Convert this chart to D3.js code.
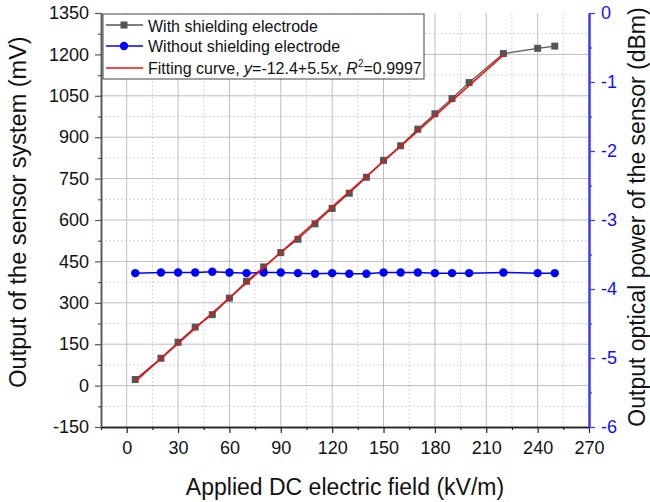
<!DOCTYPE html>
<html>
<head>
<meta charset="utf-8">
<script src="https://cdn.jsdelivr.net/npm/d3@7"></script>
<style>
  html, body { margin: 0; padding: 0; background: #fff; }
  svg { display: block; font-family: Arial, "Liberation Sans", sans-serif; }
</style>
</head>
<body>
<svg id="chart" width="650" height="502"></svg>
<script>
// Applied field (kV/m)
const fieldValues = [5, 20, 30, 40, 50, 60, 70, 80, 90, 100, 110, 120, 130, 140, 150, 160, 170, 180, 190, 200, 220, 240, 250];
// Sensor output with shielding electrode (mV)
const shieldedOutput = [22, 99, 157, 212, 257, 317, 378, 430, 482, 530, 586, 642, 697, 755, 816, 869, 929, 985, 1040, 1098, 1203, 1222, 1230];
// Optical power without shielding electrode (dBm)
const unshieldedPower = [-3.77, -3.76, -3.76, -3.76, -3.75, -3.76, -3.77, -3.76, -3.76, -3.77, -3.78, -3.77, -3.78, -3.78, -3.76, -3.76, -3.76, -3.77, -3.77, -3.77, -3.76, -3.77, -3.77];
// Linear fit y = a + b x over the linear range
const fitIntercept = -12.4;
const fitSlope = 5.5;
const fitRange = [5, 220];

const xTicks = [0, 30, 60, 90, 120, 150, 180, 210, 240, 270];
const yLeftTicks = [-150, 0, 150, 300, 450, 600, 750, 900, 1050, 1200, 1350];
const yRightTicks = [-6, -5, -4, -3, -2, -1, 0];

const svg = d3.select("#chart");
const L = 101, R = 589, T = 13, B = 427;
const plain = d => String(d);

const x = d3.scaleLinear().domain([-15, 270]).range([L, R]);
const yL = d3.scaleLinear().domain([-150, 1350]).range([B, T]);
const yR = d3.scaleLinear().domain([-6, 0]).range([B, T]);

// grid
const grid = svg.append("g");
const xMinor = d3.range(15, 270, 30);
const yMinor = d3.range(-75, 1350, 150);
grid.selectAll(".vmin").data(xMinor).join("line")
  .attr("x1", d => x(d)).attr("x2", d => x(d)).attr("y1", T).attr("y2", B)
  .attr("stroke", "#d4d4d4").attr("stroke-width", 1).attr("stroke-dasharray", "2,2");
grid.selectAll(".hmin").data(yMinor).join("line")
  .attr("y1", d => yL(d)).attr("y2", d => yL(d)).attr("x1", L).attr("x2", R)
  .attr("stroke", "#d4d4d4").attr("stroke-width", 1).attr("stroke-dasharray", "2,2");
grid.selectAll(".vmaj").data(xTicks.filter(d => d < 270)).join("line")
  .attr("x1", d => x(d)).attr("x2", d => x(d)).attr("y1", T).attr("y2", B)
  .attr("stroke", "#bdbdbd").attr("stroke-width", 1);
grid.selectAll(".hmaj").data(yLeftTicks.filter(d => d > -150 && d < 1350)).join("line")
  .attr("y1", d => yL(d)).attr("y2", d => yL(d)).attr("x1", L).attr("x2", R)
  .attr("stroke", "#bdbdbd").attr("stroke-width", 1);

// axes
function styleAxis(g, color, width, textColor) {
  g.select(".domain").attr("stroke", color).attr("stroke-width", width);
  g.selectAll(".tick line").attr("stroke", color).attr("stroke-width", 1.2);
  g.selectAll(".tick text").attr("fill", textColor)
    .attr("font-size", 18).attr("font-family", "Arial, 'Liberation Sans', sans-serif");
}

const xMinorAxis = svg.append("g").attr("transform", `translate(0,${B})`)
  .call(d3.axisBottom(x).tickValues(d3.range(-15, 271, 30)).tickSize(3).tickFormat("").tickSizeOuter(0));
styleAxis(xMinorAxis, "#222", 1.5, "#111");
const xAxis = svg.append("g").attr("transform", `translate(0,${B})`)
  .call(d3.axisBottom(x).tickValues(xTicks).tickSize(6).tickPadding(8).tickFormat(plain).tickSizeOuter(0));
styleAxis(xAxis, "#222", 1.5, "#111");

const yMinorAxis = svg.append("g").attr("transform", `translate(${L},0)`)
  .call(d3.axisLeft(yL).tickValues(yMinor).tickSize(3).tickFormat("").tickSizeOuter(0));
styleAxis(yMinorAxis, "#555", 1.5, "#111");
const yAxis = svg.append("g").attr("transform", `translate(${L},0)`)
  .call(d3.axisLeft(yL).tickValues(yLeftTicks).tickSize(6).tickPadding(6).tickFormat(plain).tickSizeOuter(0));
styleAxis(yAxis, "#555", 1.5, "#111");

const yRMinorAxis = svg.append("g").attr("transform", `translate(${R},0)`)
  .call(d3.axisRight(yR).tickValues(d3.range(-5.5, 0, 1)).tickSize(3).tickFormat("").tickSizeOuter(0));
styleAxis(yRMinorAxis, "#3b3bff", 2, "#1010ff");
const yRAxis = svg.append("g").attr("transform", `translate(${R},0)`)
  .call(d3.axisRight(yR).tickValues(yRightTicks).tickSize(6).tickPadding(6).tickFormat(plain).tickSizeOuter(0));
styleAxis(yRAxis, "#3b3bff", 2, "#1010ff");

// axis titles
svg.append("text").attr("x", (L + R) / 2).attr("y", 495)
  .attr("text-anchor", "middle").attr("font-size", 23).attr("fill", "#111")
  .text("Applied DC electric field (kV/m)");
svg.append("text").attr("transform", "translate(26,212) rotate(-90)")
  .attr("text-anchor", "middle").attr("font-size", 23.5).attr("fill", "#111")
  .text("Output of the sensor system (mV)");
svg.append("text").attr("transform", "translate(645,217) rotate(-90)")
  .attr("text-anchor", "middle").attr("font-size", 23).attr("fill", "#111")
  .text("Output optical power of the sensor (dBm)");

// series: with shielding electrode
const shielded = fieldValues.map((f, i) => [f, shieldedOutput[i]]);
svg.append("path").datum(shielded)
  .attr("fill", "none").attr("stroke", "#555").attr("stroke-width", 1.2)
  .attr("d", d3.line().x(d => x(d[0])).y(d => yL(d[1])));
svg.selectAll(".sq").data(shielded).join("rect")
  .attr("x", d => x(d[0]) - 3.5).attr("y", d => yL(d[1]) - 3.5)
  .attr("width", 7).attr("height", 7).attr("fill", "#555");

// series: without shielding electrode
const unshielded = fieldValues.map((f, i) => [f, unshieldedPower[i]]);
svg.append("path").datum(unshielded)
  .attr("fill", "none").attr("stroke", "#0000ff").attr("stroke-width", 1.5)
  .attr("d", d3.line().x(d => x(d[0])).y(d => yR(d[1])));
svg.selectAll(".dot").data(unshielded).join("circle")
  .attr("cx", d => x(d[0])).attr("cy", d => yR(d[1])).attr("r", 4.2).attr("fill", "#0000ff");

// fitted line
svg.append("path").datum(fitRange.map(f => [f, fitIntercept + fitSlope * f]))
  .attr("fill", "none").attr("stroke", "#ee1111").attr("stroke-width", 1.6)
  .attr("d", d3.line().x(d => x(d[0])).y(d => yL(d[1])));

// legend
const lg = svg.append("g");
lg.append("rect").attr("x", 103).attr("y", 14).attr("width", 321).attr("height", 65)
  .attr("fill", "#fff").attr("stroke", "#444").attr("stroke-width", 1);
const rows = [
  { y: 25, color: "#555", marker: "square" },
  { y: 46, color: "#0000ff", marker: "circle" },
  { y: 68, color: "#ee1111", marker: null }
];
rows.forEach(r => {
  lg.append("line").attr("x1", 106).attr("x2", 143).attr("y1", r.y).attr("y2", r.y)
    .attr("stroke", r.color).attr("stroke-width", 1.5);
  if (r.marker === "square") {
    lg.append("rect").attr("x", 124 - 3.5).attr("y", r.y - 3.5).attr("width", 7).attr("height", 7).attr("fill", r.color);
  } else if (r.marker === "circle") {
    lg.append("circle").attr("cx", 124).attr("cy", r.y).attr("r", 4.2).attr("fill", r.color);
  }
});
lg.append("text").attr("x", 148).attr("y", 31.5).attr("font-size", 16).attr("fill", "#111")
  .text("With shielding electrode");
lg.append("text").attr("x", 148).attr("y", 52).attr("font-size", 16).attr("fill", "#111")
  .text("Without shielding electrode");
const ft = lg.append("text").attr("x", 148).attr("y", 74).attr("font-size", 16).attr("fill", "#111");
ft.append("tspan").text("Fitting curve, ");
ft.append("tspan").attr("font-style", "italic").text("y");
ft.append("tspan").text(`=${fitIntercept}+${fitSlope}`);
ft.append("tspan").attr("font-style", "italic").text("x");
ft.append("tspan").text(", ");
ft.append("tspan").attr("font-style", "italic").text("R");
ft.append("tspan").attr("font-size", 10).attr("dy", -7).text("2");
ft.append("tspan").attr("dy", 7).text("=0.9997");
</script>
</body>
</html>
